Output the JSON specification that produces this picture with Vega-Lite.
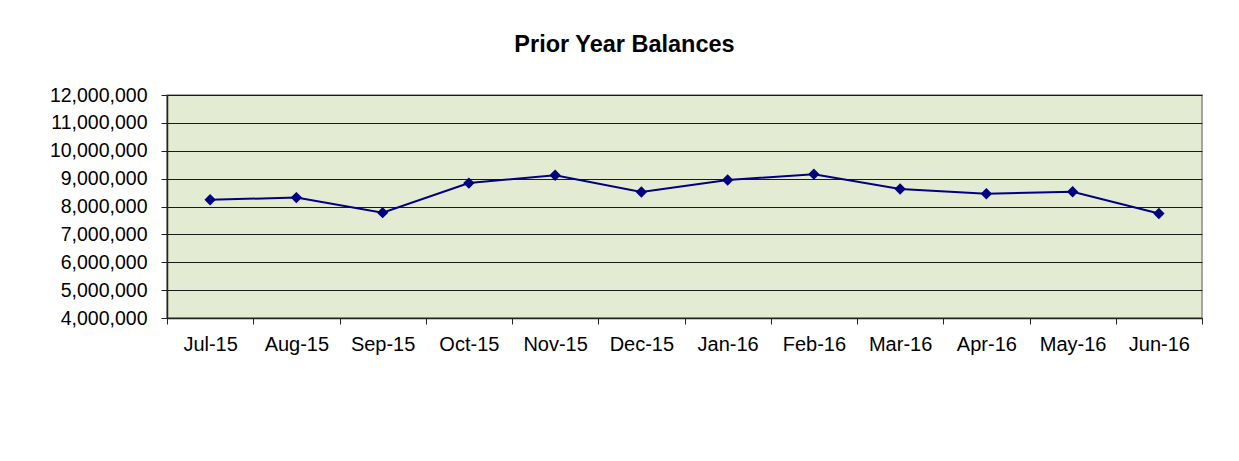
{
  "$schema": "https://vega.github.io/schema/vega-lite/v6.json",
  "autosize": "none",
  "width": 1035,
  "height": 223,
  "padding": {"left": 167, "top": 95, "right": 37, "bottom": 143},
  "background": "white",
  "title": {
    "text": "Prior Year Balances",
    "font": "Liberation Sans",
    "fontSize": 23.5,
    "fontWeight": "bold",
    "color": "black",
    "anchor": "middle",
    "dx": -60,
    "dy": 16,
    "baseline": "alphabetic",
    "offset": 26
  },
  "config": {
    "view": {"fill": "#E3EBD2", "stroke": "#8C8C8C", "strokeWidth": 1.5},
    "axis": {
      "labelFont": "Liberation Sans",
      "labelColor": "black",
      "domainColor": "#222222",
      "domainWidth": 1.5,
      "tickColor": "#222222",
      "tickSize": 6,
      "title": null
    }
  },
  "data": {
    "values": [
      {"month": "Jul-15", "balance": 8240000},
      {"month": "Aug-15", "balance": 8320000},
      {"month": "Sep-15", "balance": 7780000},
      {"month": "Oct-15", "balance": 8840000},
      {"month": "Nov-15", "balance": 9120000},
      {"month": "Dec-15", "balance": 8520000},
      {"month": "Jan-16", "balance": 8950000},
      {"month": "Feb-16", "balance": 9160000},
      {"month": "Mar-16", "balance": 8630000},
      {"month": "Apr-16", "balance": 8460000},
      {"month": "May-16", "balance": 8530000},
      {"month": "Jun-16", "balance": 7750000}
    ]
  },
  "encoding": {
    "x": {
      "field": "month",
      "type": "nominal",
      "sort": null,
      "scale": {"type": "band", "paddingInner": 0, "paddingOuter": 0},
      "axis": {
        "labelAngle": 0,
        "labelFontSize": 20,
        "tickBand": "extent",
        "labelBaseline": "alphabetic",
        "labelPadding": 26,
        "grid": false
      }
    },
    "y": {
      "field": "balance",
      "type": "quantitative",
      "scale": {"domain": [4000000, 12000000], "nice": false, "zero": false},
      "axis": {
        "values": [4000000, 5000000, 6000000, 7000000, 8000000, 9000000, 10000000, 11000000, 12000000],
        "format": ",d",
        "labelFontSize": 19.5,
        "grid": true,
        "gridColor": "#1a1a1a",
        "gridWidth": 1.2,
        "labelPadding": 14
      }
    }
  },
  "layer": [
    {"mark": {"type": "line", "color": "#000080", "strokeWidth": 2}},
    {"mark": {"type": "point", "shape": "diamond", "filled": true, "color": "#000080", "size": 130, "opacity": 1}}
  ]
}
